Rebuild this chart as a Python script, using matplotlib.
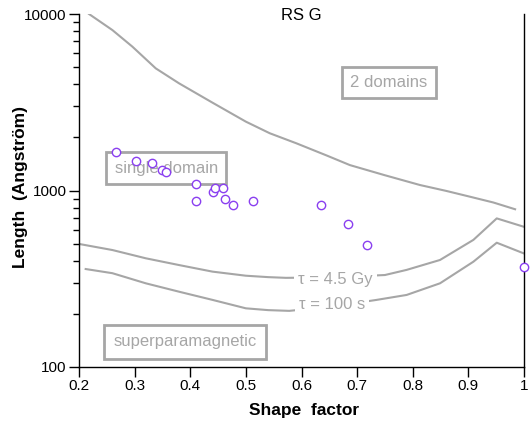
import matplotlib
matplotlib.use("Agg")
import matplotlib.pyplot as plt
from matplotlib.ticker import LogLocator, NullFormatter, FixedLocator

plt.rcParams['font.family'] = ['Liberation Sans', 'DejaVu Sans']

# Measured sample points
shape = [0.266, 0.302, 0.331, 0.349, 0.356, 0.410, 0.410, 0.441, 0.444, 0.458,
         0.462, 0.477, 0.513, 0.635, 0.684, 0.718, 1.0]
length = [1652, 1476, 1438, 1306, 1273, 1089, 869, 981, 1038, 1038,
          895, 828, 869, 824, 648, 493, 367]

# Single domain / two domain boundary
sd_x = [0.218, 0.260, 0.296, 0.338, 0.380, 0.440, 0.500, 0.543, 0.591,
        0.645, 0.687, 0.750, 0.813, 0.860, 0.903, 0.945, 0.984]
sd_y = [10000, 8110, 6530, 4920, 4045, 3145, 2455, 2110, 1850,
        1580, 1393, 1220, 1074, 995, 922, 855, 783]

# tau = 4.5 Gy curve
gy_x = [0.2, 0.260, 0.320, 0.380, 0.440, 0.500, 0.540, 0.572, 0.66, 0.750, 0.789,
        0.849, 0.909, 0.951, 0.999]
gy_y = [498, 460, 413, 378, 347, 329, 323, 320, 322, 332, 355,
        404, 525, 695, 624]

# tau = 100 s curve
s_x = [0.212, 0.260, 0.320, 0.380, 0.440, 0.500, 0.540, 0.578, 0.655, 0.735, 0.789,
       0.849, 0.909, 0.951, 0.999]
s_y = [359, 340, 298, 267, 240, 215, 210, 208, 220, 240, 256,
       298, 395, 506, 441]

x_ticks = [0.2, 0.3, 0.4, 0.5, 0.6, 0.7, 0.8, 0.9, 1.0]
x_ticklabels = ['0.2', '0.3', '0.4', '0.5', '0.6', '0.7', '0.8', '0.9', '1']
y_ticks = [100, 1000, 10000]
y_ticklabels = ['100', '1000', '10000']

gray = '#a6a6a6'
purple = '#8a3ff0'

fig = plt.figure(figsize=(5.31, 4.21), dpi=100)
ax = fig.add_axes([79/531, 1-367/421, (524-79)/531, (367-14)/421])

ax.plot(sd_x, sd_y, color=gray, lw=1.5, zorder=1, solid_joinstyle='round')
ax.plot(gy_x, gy_y, color=gray, lw=1.5, zorder=1, solid_joinstyle='round')
ax.plot(s_x, s_y, color=gray, lw=1.5, zorder=1, solid_joinstyle='round')

ax.plot(shape, length, linestyle='none', marker='o', markersize=6,
        markerfacecolor='white', markeredgecolor=purple, markeredgewidth=1.0,
        zorder=5, clip_on=False)

ax.set_yscale('log')
ax.set_xlim(0.2, 1.0)
ax.set_ylim(100, 10000)
ax.xaxis.set_major_locator(FixedLocator(x_ticks))
ax.set_xticklabels(x_ticklabels)
ax.yaxis.set_major_locator(FixedLocator(y_ticks))
ax.set_yticklabels(y_ticklabels)
ax.yaxis.set_minor_locator(LogLocator(base=10, subs=range(2, 10)))
ax.yaxis.set_minor_formatter(NullFormatter())

ax.spines['top'].set_visible(False)
for s in ['left', 'bottom', 'right']:
    ax.spines[s].set_linewidth(1.0)
ax.tick_params(axis='both', which='major', direction='out', length=7, width=1,
               labelsize=11, pad=2)
ax.tick_params(axis='y', which='minor', direction='out', length=4, width=1)
ax.tick_params(axis='y', right=False)

ax.set_xlabel('Shape  factor', fontsize=12.5, fontweight='bold')
ax.xaxis.set_label_coords((304-79)/445, -(410.7-367)/353)
ax.xaxis.label.set_va('center')
ax.set_ylabel('Length  (Angström)', fontsize=12.5, fontweight='bold')
ax.yaxis.set_label_coords((21-79)/445, (367-187.5)/353)
ax.yaxis.label.set_va('center')

box = dict(boxstyle='square,pad=0.5', facecolor='none', edgecolor=gray, linewidth=2)
ax.text(0.357, 1340, 'single domain', fontsize=12, color=gray, ha='center', va='center',
        bbox=box, zorder=2)
ax.text(0.757, 4093, '2 domains', fontsize=12, color=gray, ha='center', va='center',
        bbox=box, zorder=2)
ax.text(0.3906, 138.6, 'superparamagnetic', fontsize=12, color=gray, ha='center', va='center',
        bbox=dict(boxstyle='square,pad=0.55', facecolor='none', edgecolor=gray, linewidth=2),
        zorder=2)

wbox = dict(boxstyle='square,pad=0.25', facecolor='white', edgecolor='none')
ax.text(0.661, 315, 'τ = 4.5 Gy', fontsize=12, color=gray, ha='center', va='center',
        bbox=wbox, zorder=3)
ax.text(0.655, 226, 'τ = 100 s', fontsize=12, color=gray, ha='center', va='center',
        bbox=wbox, zorder=3)

fig.text(301.7/531, 1-15/421, 'RS G', fontsize=12, ha='center', va='center')

fig.savefig('out.png', dpi=100)
